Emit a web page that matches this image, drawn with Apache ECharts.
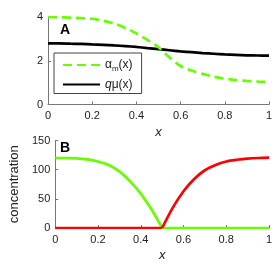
<!DOCTYPE html>
<html><head><meta charset="utf-8">
<script src="https://cdn.jsdelivr.net/npm/echarts@6/dist/echarts.min.js"></script>
<style>html,body{margin:0;padding:0;background:#fff}#c{width:279px;height:266px}</style>
</head><body><div id="c"></div>
<script>
const xTop = [0,0.05,0.1,0.15,0.2,0.25,0.3,0.35,0.4,0.45,0.5,0.55,0.6,0.65,0.7,0.75,0.8,0.85,0.9,0.95,1];
const alphaM = [4.0,3.99,3.97,3.95,3.92,3.83,3.7,3.5,3.25,2.95,2.62,2.15,1.76,1.55,1.4,1.27,1.18,1.12,1.08,1.05,1.03];
const qMu = [2.79,2.79,2.78,2.77,2.75,2.73,2.7,2.67,2.63,2.58,2.53,2.48,2.43,2.39,2.35,2.32,2.29,2.27,2.25,2.24,2.23];
const xBot = [0,0.05,0.1,0.15,0.2,0.25,0.3,0.35,0.4,0.45,0.5,0.55,0.6,0.65,0.7,0.75,0.8,0.85,0.9,0.95,1];
const greenConc = [120,120,119.5,117.5,114,108,97,80,59,32,0,0,0,0,0,0,0,0,0,0,0];
const redConc = [0,0,0,0,0,0,0,0,0,0,0,35,63,84,99,108,114,117,119,120,120.5];
const xTicks = [0,0.2,0.4,0.6,0.8,1];
const topYTicks = [0,2,4];
const botYTicks = [0,50,100,150];
const switchX = 0.5;

const GREEN = '#66ff00', RED = '#ff0000';
const FONT = 'Liberation Sans, Arial, sans-serif';
const pair = (xs, ys) => xs.map((x, i) => [x, ys[i]]);
const before = (xs, ys) => pair(xs, ys).filter(p => p[0] <= switchX);
const after = (xs, ys) => pair(xs, ys).filter(p => p[0] >= switchX);

const axisLine = {show: true, lineStyle: {color: '#777', width: 1}};
const axisTick = {show: true, inside: true, length: 3, lineStyle: {color: '#777'}};
const axisLabel = {color: '#222', fontFamily: FONT, fontSize: 11};

function xAx(gi) {
  return {type: 'value', gridIndex: gi, min: xTicks[0], max: xTicks[xTicks.length-1], interval: 0.2,
    axisLine, axisTick, splitLine: {show: false},
    axisLabel: Object.assign({}, axisLabel, {margin: 6, formatter: v => String(+v.toFixed(1))}),
    name: 'x', nameLocation: 'middle', nameGap: 21,
    nameTextStyle: {fontFamily: FONT, fontSize: 13, fontStyle: 'italic', color: '#222'}};
}
function botLine(data, color, z) {
  return {type: 'line', xAxisIndex: 1, yAxisIndex: 1, data, smooth: 0.3, symbol: 'none',
    lineStyle: {color, width: 2.7}, z};
}

const chart = echarts.init(document.getElementById('c'), null, {renderer: 'canvas'});
chart.setOption({
  animation: false,
  backgroundColor: '#fff',
  grid: [
    {left: 48, right: 10, top: 17, height: 87.5},
    {left: 48, right: 10, top: 140.5, height: 87.5}
  ],
  xAxis: [xAx(0), xAx(1)],
  yAxis: [
    {type: 'value', gridIndex: 0, min: topYTicks[0], max: topYTicks[topYTicks.length-1], interval: 2,
      axisLine, axisTick, splitLine: {show: false}, axisLabel: Object.assign({}, axisLabel, {margin: 5})},
    {type: 'value', gridIndex: 1, min: botYTicks[0], max: botYTicks[botYTicks.length-1], interval: 50,
      axisLine, axisTick, splitLine: {show: false}, axisLabel: Object.assign({}, axisLabel, {margin: 5}),
      name: 'concentration', nameLocation: 'middle', nameGap: 29,
      nameTextStyle: {fontFamily: FONT, fontSize: 13, color: '#222'}}
  ],
  legend: {
    left: 54, top: 53, orient: 'vertical', width: 89,
    backgroundColor: '#fff', borderColor: '#444', borderWidth: 1,
    padding: [6, 9, 3, 8], itemGap: 6, itemWidth: 37, itemHeight: 14,
    itemStyle: {color: 'rgba(0,0,0,0)', borderWidth: 0, opacity: 0},
    data: ['alpha', 'qmu'],
    formatter: n => n === 'alpha' ? '{t|α}{s|m}{t|(x)}' : '{i|q}{t|μ(x)}',
    textStyle: {fontFamily: FONT, fontSize: 12, color: '#222',
      rich: {
        t: {fontFamily: FONT, fontSize: 12, color: '#222', verticalAlign: 'middle'},
        i: {fontFamily: FONT, fontSize: 12, color: '#222', fontStyle: 'italic'},
        s: {fontFamily: FONT, fontSize: 8, color: '#222', verticalAlign: 'bottom', padding: [7, 0, 0, 0]}
      }}
  },
  graphic: [
    {type: 'text', left: 60, top: 23, style: {text: 'A', font: 'bold 14px ' + FONT, fill: '#000'}},
    {type: 'text', left: 60, top: 141, style: {text: 'B', font: 'bold 14px ' + FONT, fill: '#000'}}
  ],
  series: [
    {name: 'qmu', type: 'line', xAxisIndex: 0, yAxisIndex: 0, data: pair(xTop, qMu),
      smooth: 0.3, symbol: 'none', lineStyle: {color: '#000', width: 2.7}, itemStyle: {color: '#000'}, z: 2},
    {name: 'alpha', type: 'line', xAxisIndex: 0, yAxisIndex: 0, data: pair(xTop, alphaM),
      smooth: 0.3, symbol: 'none', lineStyle: {color: GREEN, width: 2.7, type: [9, 5]}, itemStyle: {color: GREEN}, z: 3},
    botLine(before(xBot, greenConc), GREEN, 2),
    botLine(after(xBot, greenConc), GREEN, 2),
    botLine(before(xBot, redConc), RED, 3),
    botLine(after(xBot, redConc), RED, 3)
  ]
});
</script></body></html>
